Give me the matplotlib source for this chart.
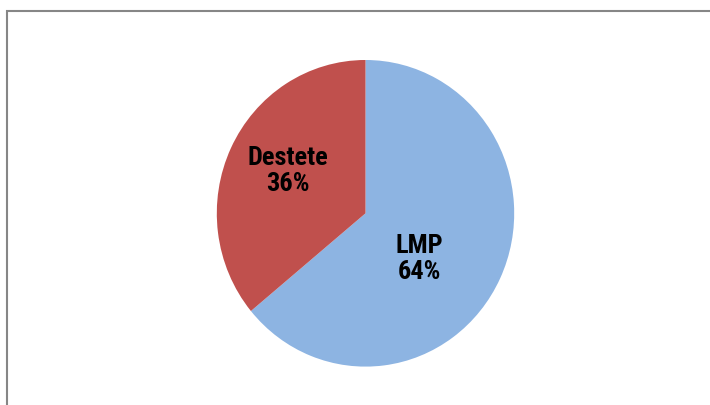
import matplotlib
matplotlib.use('Agg')
import matplotlib.pyplot as plt
from matplotlib.patches import Rectangle

# Pie data
labels = ['LMP', 'Destete']
shares = [64, 36]
colors = ['#8DB4E2', '#C0504D']

W, H = 710, 405
stretch = 1.031  # original picture is a little taller than wide
fig = plt.figure(figsize=(W / 100, H / 100), dpi=100)
ax = fig.add_axes([0, 0, 1, 1])

# chart frame (only top/left visible, rest runs off the picture)
fig.patches.append(Rectangle((7 / W, -0.1), 1.2, (H - 11) / H + 0.1,
                             transform=fig.transFigure, fill=False,
                             edgecolor='#868686', linewidth=1.5))

ax.pie(shares, colors=colors, startangle=90, counterclock=False,
       center=(365.5, (H - 213.3) / stretch), radius=148.7, frame=True,
       wedgeprops=dict(linewidth=0))
ax.set_xlim(0, W)
ax.set_ylim(0, H / stretch)
ax.set_aspect('auto')
ax.axis('off')

# label positions in pixel coords (top-left origin)
label_pos = [(419, 259), (288, 171)]
for lab, val, (px, py) in zip(labels, shares, label_pos):
    fig.text(px / W, 1 - py / H, '{0}\n{1}%'.format(lab, val),
             ha='center', va='center', fontsize=19, fontweight='bold',
             family=['Roboto Condensed', 'Liberation Sans'],
             color='black', linespacing=1.06)

fig.savefig('out.png', dpi=100)
